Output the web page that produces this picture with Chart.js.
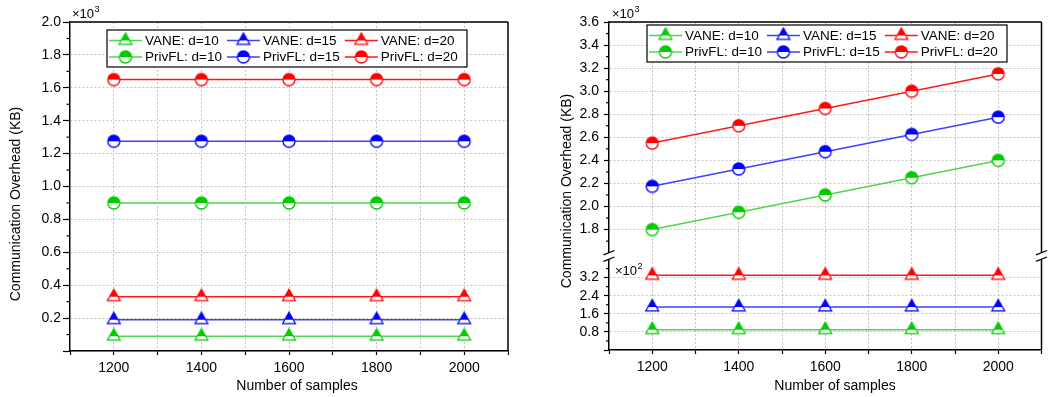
<!DOCTYPE html>
<html><head><meta charset="utf-8">
<script src="https://cdn.jsdelivr.net/npm/chart.js@4.4.0/dist/chart.umd.min.js"></script>
<style>
html,body{margin:0;padding:0;background:#fff;overflow:hidden}
#wrap{position:relative;width:1050px;height:397px;background:#fff}
canvas{position:absolute;top:0}
#c1{left:0}
#c2{left:525px}
</style></head><body>
<div id="wrap"><canvas id="c1" width="525" height="397"></canvas><canvas id="c2" width="525" height="397"></canvas></div>
<script>
// ---------------- DATA ----------------
const samples = [1200, 1400, 1600, 1800, 2000];
const seriesLabels = ['VANE: d=10', 'VANE: d=15', 'VANE: d=20', 'PrivFL: d=10', 'PrivFL: d=15', 'PrivFL: d=20'];

// Left chart (KB)
const leftVANE10 = [90, 90, 90, 90, 90];
const leftVANE15 = [190, 190, 190, 190, 190];
const leftVANE20 = [330, 330, 330, 330, 330];
const leftPriv10 = [900, 900, 900, 900, 900];
const leftPriv15 = [1275, 1275, 1275, 1275, 1275];
const leftPriv20 = [1650, 1650, 1650, 1650, 1650];

// Right chart (KB)
const rightVANE10 = [90, 90, 90, 90, 90];
const rightVANE15 = [190, 190, 190, 190, 190];
const rightVANE20 = [330, 330, 330, 330, 330];
const rightPriv10 = [1800, 1950, 2100, 2250, 2400];
const rightPriv15 = [2175, 2325, 2475, 2625, 2775];
const rightPriv20 = [2550, 2700, 2850, 3000, 3150];

// Ticks
const xAllTicks = [1100, 1200, 1300, 1400, 1500, 1600, 1700, 1800, 1900, 2000, 2100];
const xLabelTicks = [1200, 1400, 1600, 1800, 2000];
const leftYTicks = [0, 200, 400, 600, 800, 1000, 1200, 1400, 1600, 1800, 2000];
const leftYMinor = [100, 300, 500, 700, 900, 1100, 1300, 1500, 1700, 1900];
const rightUpperTicks = [1800, 2000, 2200, 2400, 2600, 2800, 3000, 3200, 3400, 3600];
const rightUpperMinor = [1700, 1900, 2100, 2300, 2500, 2700, 2900, 3100, 3300, 3500];
const rightLowerTicks = [0, 80, 160, 240, 320];
const rightLowerMinor = [40, 120, 200, 280, 360];

// ---------------- STYLE ----------------
const FONT = '"Liberation Sans", Arial, Helvetica, sans-serif';
const GREEN = '#00cc00', BLUE = '#0000ff', RED = '#ff0000';
const GREEN_L = '#4fd64f', BLUE_L = '#4040ff', RED_L = '#ff1a1a';
const GRID = '#c4c4c4';

function makeMarker(shape, color) {
  const c = document.createElement('canvas');
  c.width = 18; c.height = 18;
  const g = c.getContext('2d');
  const cx = 9, cy = 9;
  function path() {
    g.beginPath();
    if (shape === 'tri') {
      g.moveTo(cx, cy - 7.5); g.lineTo(cx + 6.4, cy + 3.8); g.lineTo(cx - 6.4, cy + 3.8); g.closePath();
    } else {
      g.arc(cx, cy, 6.0, 0, Math.PI * 2);
    }
  }
  path(); g.fillStyle = '#fff'; g.fill();
  g.save(); g.beginPath(); g.rect(0, 0, 18, cy); g.clip(); path(); g.fillStyle = color; g.fill(); g.restore();
  path(); g.lineWidth = 1.3; g.strokeStyle = color; g.stroke();
  return c;
}

function pts(arr) { return samples.map((x, i) => ({ x: x, y: arr[i] })); }

function ds(label, arr, color, line, shape, axis) {
  return {
    label: label, data: pts(arr), borderColor: line, backgroundColor: color,
    borderWidth: 1.5, pointStyle: makeMarker(shape, color), pointRadius: 7, pointHoverRadius: 7,
    fill: false, tension: 0, yAxisID: axis
  };
}

function drawExp(ctx, x, y, base, exp) {
  ctx.save();
  ctx.fillStyle = '#000'; ctx.textBaseline = 'alphabetic'; ctx.textAlign = 'left';
  ctx.font = '13px ' + FONT;
  ctx.fillText(base, x, y);
  const w = ctx.measureText(base).width;
  ctx.font = '9px ' + FONT;
  ctx.fillText(exp, x + w + 0.5, y - 6);
  ctx.restore();
}

function decoPlugin(cfg) {
  return {
    id: 'deco',
    afterDraw(chart) {
      const ctx = chart.ctx, a = chart.chartArea;
      ctx.save();
      // minor ticks
      ctx.strokeStyle = '#000'; ctx.lineWidth = 1.2;
      cfg.minor.forEach(m => {
        const s = chart.scales[m.id];
        m.values.forEach(v => {
          const y = s.getPixelForValue(v);
          ctx.beginPath(); ctx.moveTo(a.left - m.len, y); ctx.lineTo(a.left, y); ctx.stroke();
        });
      });
      // frame top & right
      ctx.lineWidth = 1.5;
      ctx.beginPath(); ctx.moveTo(a.left, a.top); ctx.lineTo(a.right, a.top); ctx.stroke();
      ctx.beginPath(); ctx.moveTo(a.right, a.top); ctx.lineTo(a.right, a.bottom); ctx.stroke();
      // axis break
      if (cfg.breakScale) {
        const b = chart.scales[cfg.breakScale].bottom;
        [a.left, a.right].forEach(ax => {
          ctx.fillStyle = '#fff';
          ctx.fillRect(ax - 2.5, b - 3.2, 5, 6.4);
          ctx.strokeStyle = '#000'; ctx.lineWidth = 1.3;
          [-3.3, 3.2].forEach(off => {
            const c = b + off;
            ctx.beginPath(); ctx.moveTo(ax - 5.5, c + 2.2); ctx.lineTo(ax + 5.5, c - 2.2); ctx.stroke();
          });
        });
      }
      // exponent labels
      cfg.exps.forEach(e => drawExp(ctx, e.x, e.y, '\u00d710', e.exp));
      // axis titles
      ctx.fillStyle = '#000'; ctx.font = '14px ' + FONT;
      ctx.textAlign = 'center'; ctx.textBaseline = 'middle';
      ctx.fillText(cfg.xTitle, cfg.xTitlePos[0], cfg.xTitlePos[1]);
      ctx.save();
      ctx.translate(cfg.yTitlePos[0], cfg.yTitlePos[1]); ctx.rotate(-Math.PI / 2);
      ctx.fillText(cfg.yTitle, 0, 0);
      ctx.restore();
      // legend
      const L = cfg.legend.x, T = cfg.legend.y, W = 360, H = 37;
      ctx.fillStyle = '#fff'; ctx.fillRect(L, T, W, H);
      ctx.strokeStyle = '#000'; ctx.lineWidth = 1.2; ctx.strokeRect(L, T, W, H);
      ctx.font = '13.5px ' + FONT; ctx.textAlign = 'left'; ctx.textBaseline = 'middle';
      const dsets = chart.data.datasets;
      const colW = [0, 1, 2].map(c => Math.max(ctx.measureText(dsets[c].label).width, ctx.measureText(dsets[c + 3].label).width));
      const rows = [T + 10.5, T + 27];
      let sx = L + 2;
      for (let c = 0; c < 3; c++) {
        for (let r = 0; r < 2; r++) {
          const d = dsets[r * 3 + c], y = rows[r];
          ctx.strokeStyle = d.borderColor; ctx.lineWidth = 1.5;
          ctx.beginPath(); ctx.moveTo(sx, y); ctx.lineTo(sx + 33, y); ctx.stroke();
          const img = d.pointStyle;
          ctx.drawImage(img, sx + 16.5 - img.width / 2, y - img.height / 2);
          ctx.fillStyle = '#000';
          ctx.fillText(d.label, sx + 36, y + 0.5);
        }
        sx += 36 + colW[c] + 5;
      }
      ctx.restore();
    }
  };
}

function xScale(h) {
  return {
    type: 'linear', min: 1100, max: 2100,
    afterBuildTicks: s => { s.ticks = xAllTicks.map(v => ({ value: v })); },
    afterFit: s => { s.height = h; },
    grid: {
      color: c => (c.tick && (c.tick.value === 1100 || c.tick.value === 2100)) ? 'rgba(0,0,0,0)' : GRID,
      lineWidth: 1, tickLength: 4, tickColor: '#000', tickWidth: 1.2
    },
    border: { color: '#000', width: 1.5, dash: [2, 2] },
    ticks: {
      autoSkip: false, maxRotation: 0, minRotation: 0, color: '#000', font: { family: FONT, size: 14 }, padding: 5,
      callback: v => xLabelTicks.includes(v) ? String(v) : ''
    }
  };
}

function yScale(opts) {
  return Object.assign({
    type: 'linear', position: 'left',
    afterBuildTicks: s => { s.ticks = opts.tickVals.map(v => ({ value: v })); },
    afterFit: s => { s.width = opts.width; },
    grid: { color: GRID, lineWidth: 1, tickLength: opts.tl, tickColor: '#000', tickWidth: 1.2 },
    border: { color: '#000', width: 1.5, dash: [2, 2] },
    ticks: { autoSkip: false, color: '#000', font: { family: FONT, size: 14 }, padding: opts.pad, callback: opts.cb }
  }, opts.extra);
}

const common = {
  responsive: false, animation: false, events: [],
  plugins: { legend: { display: false }, tooltip: { enabled: false } }
};

// ---------------- LEFT CHART ----------------
new Chart(document.getElementById('c1'), {
  type: 'line',
  data: {
    datasets: [
      ds(seriesLabels[0], leftVANE10, GREEN, GREEN_L, 'tri', 'y'),
      ds(seriesLabels[1], leftVANE15, BLUE, BLUE_L, 'tri', 'y'),
      ds(seriesLabels[2], leftVANE20, RED, RED_L, 'tri', 'y'),
      ds(seriesLabels[3], leftPriv10, GREEN, GREEN_L, 'circ', 'y'),
      ds(seriesLabels[4], leftPriv15, BLUE, BLUE_L, 'circ', 'y'),
      ds(seriesLabels[5], leftPriv20, RED, RED_L, 'circ', 'y')
    ]
  },
  options: Object.assign({}, common, {
    layout: { padding: { top: 22, right: 17, left: 0, bottom: 0 } },
    scales: {
      x: xScale(46),
      y: yScale({
        tickVals: leftYTicks, width: 70, tl: 7, pad: 2,
        cb: v => v === 0 ? '' : (v / 1000).toFixed(1),
        extra: { min: 0, max: 2000 }
      })
    }
  }),
  plugins: [decoPlugin({
    minor: [{ id: 'y', values: leftYMinor, len: 3.5 }],
    exps: [{ x: 72, y: 18, exp: '3' }],
    xTitle: 'Number of samples', xTitlePos: [297, 386],
    yTitle: 'Communication Overhead (KB)', yTitlePos: [16, 204],
    legend: { x: 107, y: 30 }
  })]
});

// ---------------- RIGHT CHART ----------------
new Chart(document.getElementById('c2'), {
  type: 'line',
  data: {
    datasets: [
      ds(seriesLabels[0], rightVANE10, GREEN, GREEN_L, 'tri', 'y2'),
      ds(seriesLabels[1], rightVANE15, BLUE, BLUE_L, 'tri', 'y2'),
      ds(seriesLabels[2], rightVANE20, RED, RED_L, 'tri', 'y2'),
      ds(seriesLabels[3], rightPriv10, GREEN, GREEN_L, 'circ', 'y'),
      ds(seriesLabels[4], rightPriv15, BLUE, BLUE_L, 'circ', 'y'),
      ds(seriesLabels[5], rightPriv20, RED, RED_L, 'circ', 'y')
    ]
  },
  options: Object.assign({}, common, {
    layout: { padding: { top: 22, right: 3, left: 0, bottom: 0 } },
    scales: {
      x: xScale(47),
      y2: yScale({
        tickVals: rightLowerTicks, width: 84, tl: 5, pad: 5,
        cb: v => v === 0 ? '' : (v / 100).toFixed(1),
        extra: { min: 0, max: 415.5, stack: 'right', stackWeight: 94 }
      }),
      y: yScale({
        tickVals: rightUpperTicks, width: 84, tl: 5, pad: 5,
        cb: v => (v / 1000).toFixed(1),
        extra: { min: 1571, max: 3600, stack: 'right', stackWeight: 234 }
      })
    }
  }),
  plugins: [decoPlugin({
    minor: [{ id: 'y', values: rightUpperMinor, len: 3 }, { id: 'y2', values: rightLowerMinor, len: 3 }],
    breakScale: 'y',
    exps: [{ x: 87, y: 18, exp: '3' }, { x: 90, y: 275, exp: '2' }],
    xTitle: 'Number of samples', xTitlePos: [310, 386],
    yTitle: 'Communication Overhead (KB)', yTitlePos: [42, 191],
    legend: { x: 122, y: 25 }
  })]
});
</script>
</body></html>
